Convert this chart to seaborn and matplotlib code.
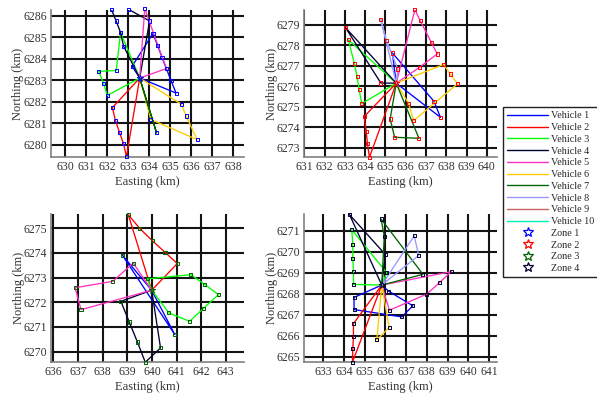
import matplotlib
matplotlib.use("Agg")
import matplotlib.pyplot as plt
import pandas as pd
import seaborn as sns
from matplotlib.lines import Line2D

sns.set_style("white")
plt.rcParams["font.family"] = ["Liberation Serif", "DejaVu Serif"]

# Legend entries
vehicle_names = [f"Vehicle {i}" for i in range(1, 11)]
vehicle_colors = ["#0000FF", "#FF0000", "#00FF00", "#000033", "#FF33C0",
                  "#FFCC00", "#006400", "#9999FF", "#C86464", "#00F0B4"]
zone_names = ["Zone 1", "Zone 2", "Zone 3", "Zone 4"]
zone_colors = ["#0000FF", "#FF0000", "#006400", "#000033"]

# Depot location (Easting, Northing in km) for each zone
depot_1 = (633.54, 6283.10)
depot_2 = (635.53, 6276.15)
depot_3 = (639.99, 6272.49)
depot_4 = (635.82, 6268.41)

# Customer visiting order of each vehicle, keyed by vehicle number
routes_1 = {
    1: [(633.18, 6283.65), (634.17, 6285.18), (634.60, 6284.07), (635.03, 6282.98), (635.27, 6282.40)],
    2: [(632.24, 6281.72), (632.38, 6281.14), (632.58, 6280.56), (632.77, 6280.04), (632.91, 6279.43)],
    3: [(632.00, 6282.29), (631.83, 6282.83), (631.59, 6283.41), (632.42, 6283.45), (632.63, 6285.22)],
    4: [(634.01, 6285.76), (632.99, 6286.31), (632.19, 6286.31), (632.42, 6285.76), (632.63, 6285.22), (632.77, 6284.59)],
    5: [(633.78, 6286.34), (634.40, 6284.63), (634.81, 6283.54)],
    6: [(635.52, 6281.88), (635.75, 6281.33), (636.27, 6280.23), (634.07, 6281.17)],
    7: [(634.34, 6280.55)],
}
routes_2 = {
    1: [(635.34, 6277.62), (637.39, 6275.27), (637.71, 6274.49)],
    2: [(633.95, 6274.53), (634.05, 6273.81), (634.11, 6273.20), (634.21, 6272.55)],
    3: [(633.17, 6278.26), (633.46, 6277.12), (633.60, 6276.47), (633.70, 6275.83), (633.83, 6275.16)],
    4: [(633.03, 6278.85), (634.77, 6276.16)],
    5: [(636.45, 6279.73), (636.71, 6279.19), (637.26, 6278.14), (637.55, 6277.57), (636.69, 6276.93)],
    6: [(637.87, 6277.06), (638.19, 6276.60), (638.55, 6276.12), (636.39, 6274.33), (636.13, 6275.18)],
    7: [(635.23, 6274.41), (635.45, 6273.52), (636.65, 6273.47)],
    8: [(634.77, 6279.24), (635.05, 6278.22), (635.61, 6276.84)],
}
routes_3 = {
    1: [(638.80, 6273.91), (640.93, 6270.69)],
    2: [(639.04, 6275.55), (639.51, 6274.99), (640.01, 6274.50), (640.53, 6274.03), (641.03, 6273.57)],
    3: [(639.81, 6272.95), (641.58, 6273.12), (642.15, 6272.72), (642.70, 6272.31),
        (642.08, 6271.74), (641.53, 6271.23), (640.69, 6271.57)],
    4: [(638.74, 6272.04), (639.08, 6271.20), (639.41, 6270.39), (639.73, 6269.57), (640.35, 6270.15)],
    5: [(639.24, 6273.59), (638.41, 6272.85), (636.88, 6272.59), (637.12, 6271.70)],
}
routes_4 = {
    1: [(636.15, 6268.12), (637.32, 6267.42), (636.79, 6266.89), (634.48, 6267.24), (634.48, 6267.82)],
    2: [(634.45, 6266.57), (634.45, 6265.96), (634.42, 6265.37), (634.40, 6264.73)],
    3: [(634.45, 6268.44), (634.45, 6269.05), (634.42, 6269.69), (634.42, 6270.33), (634.37, 6271.05), (636.06, 6269.00)],
    4: [(634.26, 6271.77), (635.98, 6269.88)],
    5: [(636.19, 6267.21), (638.00, 6267.98), (638.60, 6268.52), (639.18, 6269.05)],
    6: [(636.18, 6266.38), (635.58, 6265.80)],
    7: [(635.94, 6270.73), (635.79, 6271.56), (637.81, 6268.92)],
    8: [(637.39, 6270.76), (637.60, 6269.82)],
}

zones = [(depot_1, routes_1), (depot_2, routes_2), (depot_3, routes_3), (depot_4, routes_4)]

# Axes placement [left, bottom, width, height] and view windows
axes_rects = [
    [0.0854, 0.6035, 0.3233, 0.3712],
    [0.5092, 0.6035, 0.3233, 0.3712],
    [0.0854, 0.0859, 0.3233, 0.3737],
    [0.5092, 0.0859, 0.3233, 0.3737],
]
x_windows = [(629.32, 638.5), (630.98, 640.5), (635.9, 643.74), (632.06, 641.39)]
y_windows = [(6279.42, 6286.27), (6272.56, 6279.71), (6269.58, 6275.58), (6264.74, 6271.8)]

fig = plt.figure(figsize=(5.97, 3.96), dpi=100)

for zi, (depot, routes) in enumerate(zones):
    ax = fig.add_axes(axes_rects[zi])
    rows = []
    nodes = []
    for v, stops in routes.items():
        tour = [depot] + stops + [depot]
        for k, (x, y) in enumerate(tour):
            rows.append({"x": x, "y": y, "vehicle": vehicle_names[v - 1], "step": k})
        nodes.extend(stops)
    df = pd.DataFrame(rows)
    used = [vehicle_names[v - 1] for v in routes]
    pal = {vehicle_names[v - 1]: vehicle_colors[v - 1] for v in routes}
    sns.lineplot(data=df, x="x", y="y", hue="vehicle", hue_order=used, palette=pal,
                 units="vehicle", estimator=None, sort=False, lw=0.95, legend=False, ax=ax)

    ndf = pd.DataFrame(nodes, columns=["x", "y"])
    zc = zone_colors[zi]
    sns.scatterplot(data=ndf, x="x", y="y", marker="s", s=5, color=zc,
                    linewidth=0.7, legend=False, ax=ax, zorder=5, clip_on=False)
    ax.collections[-1].set_facecolor("none")
    ax.collections[-1].set_edgecolor(zc)
    ax.plot([depot[0]], [depot[1]], marker="*", ms=5, mfc="none", mec=zc, mew=0.7, zorder=6)

    ax.set_xlim(*x_windows[zi])
    ax.set_ylim(*y_windows[zi])
    x0, x1 = x_windows[zi]
    y0, y1 = y_windows[zi]
    ax.set_xticks(range(int(x0) + 1, int(x1) + 1))
    ax.set_yticks(range(int(y0) + 1, int(y1) + 1))
    ax.grid(True, color="#141414", lw=1.5)
    ax.set_axisbelow(True)
    for side in ["top", "right"]:
        ax.spines[side].set_visible(False)
    for side in ["left", "bottom"]:
        ax.spines[side].set_color("#808080")
        ax.spines[side].set_linewidth(1.2)
    ax.tick_params(length=0, labelsize=8.5, pad=3, colors="#333333")
    ax.set_xlabel("Easting (km)", fontsize=9, labelpad=2, color="#333333")
    ax.set_ylabel("Northing (km)", fontsize=9, labelpad=-1, color="#333333")

handles = [Line2D([], [], color=c, lw=1.0) for c in vehicle_colors]
handles += [Line2D([], [], ls="none", marker="*", ms=7, mfc="none", mec=c, mew=0.9) for c in zone_colors]
labels = vehicle_names + zone_names
fig.legend(handles, labels, loc="upper left", bbox_to_anchor=(0.843, 0.729),
           fontsize=7.3, handlelength=4.0, handletextpad=0.3, labelspacing=0.26,
           borderpad=0.4, borderaxespad=0, frameon=True, fancybox=False,
           edgecolor="#222222", framealpha=1)

fig.savefig("out.png", dpi=100)
